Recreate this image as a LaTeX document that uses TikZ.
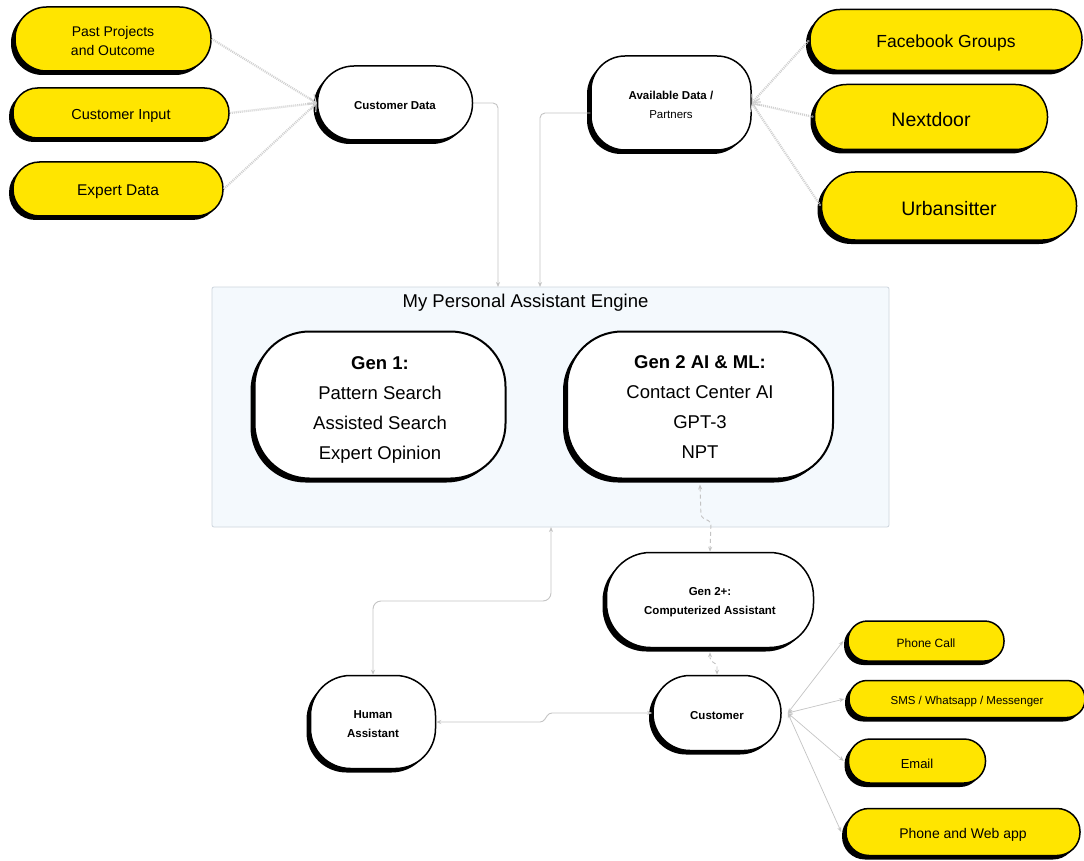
\documentclass[tikz,border=0pt]{standalone}
\usepackage{fontspec}
\setmainfont{Liberation Sans}
\usetikzlibrary{shadows,arrows.meta}
\definecolor{yel}{HTML}{FFE500}
\definecolor{lgray}{HTML}{C4C4C4}
\definecolor{dgray}{HTML}{D0D0D0}
\definecolor{engbg}{HTML}{F4F9FD}
\definecolor{engbd}{HTML}{CDD5DD}
\newcommand{\fs}[2]{\fontsize{#1}{#2}\selectfont}
\newcommand{\lift}[1]{\rule{0pt}{\dimexpr 0.75em+#1\relax}}
\tikzset{
  dn/.style={execute at begin node={\lift{#1}}},
  box/.style={draw=black, line width=1.5pt, inner sep=0pt, align=center,
    drop shadow={shadow xshift=-4pt, shadow yshift=-4pt, opacity=1, fill=black}},
  ybox/.style={box, fill=yel},
  wbox/.style={box, fill=white},
  sz/.style n args={3}{minimum width=#1, minimum height=#2, rounded corners=#3},
  dotconn/.style={draw=dgray, line width=2.2pt, dash pattern=on 1pt off 1pt},
  conn/.style={draw=lgray, line width=0.9pt},
  dconn/.style={draw=lgray, line width=0.9pt, dash pattern=on 4pt off 3pt},
  tip/.style={-{Stealth[length=5pt,width=4pt]}},
  tips/.style={{Stealth[length=5pt,width=4pt]}-{Stealth[length=5pt,width=4pt]}},
}
\begin{document}
\begin{tikzpicture}[x=1pt,y=1pt]
\useasboundingbox (0,0) rectangle (1084,-861);
\fill[white] (0,0) rectangle (1084,-861);

% engine frame
\node[draw=engbd, fill=engbg, line width=0.8pt, minimum width=677, minimum height=240, rounded corners=2pt, inner sep=0pt] (engine) at (550.5,-407) {};
\node[font=\fs{18.5}{22}] (etitle) at (525.5,-303) {My Personal Assistant Engine};

% left pills
\node[ybox, sz={196}{64}{31.5}, font=\fs{14}{19}] (pp) at (113,-39) {\lift{4pt}Past Projects\\and Outcome};
\node[ybox, sz={216}{50}{24.5}, font=\fs{14.5}{17}, dn=5pt] (ci) at (121,-113) {Customer Input};
\node[ybox, sz={210}{54}{26.5}, font=\fs{15.5}{18}, dn=5pt] (ed) at (118,-189) {Expert Data};

% customer data / available data
\node[wbox, sz={155}{74}{36.5}, font=\fs{11.5}{14}, dn=4pt] (cdata) at (395,-103) {\textbf{Customer Data}};
\node[wbox, sz={160}{94}{34}, font=\fs{11.5}{19}] (avail) at (671,-103) {\lift{4pt}\textbf{Available Data /}\\Partners};

% right pills
\node[ybox, sz={272}{61}{30}, font=\fs{17.5}{20}, dn=5pt] (fb) at (946,-40) {Facebook Groups};
\node[ybox, sz={233}{65}{32}, font=\fs{19.5}{22}, dn=5pt] (nd) at (931,-117) {Nextdoor};
\node[ybox, sz={255}{68}{33.5}, font=\fs{19.5}{22}, dn=5pt] (ub) at (949,-206) {Urbansitter};

% engine boxes
\node[wbox, line width=2pt, sz={251}{147}{55}, font=\fs{18.5}{30}] (gen1) at (380,-405) {\lift{9pt}\textbf{Gen 1:}\\Pattern Search\\Assisted Search\\Expert Opinion};
\node[wbox, line width=2pt, sz={266}{147}{55}, font=\fs{18.5}{30}] (gen2) at (700,-405) {\lift{3pt}\textbf{Gen 2 AI \& ML:}\\Contact Center AI\\GPT-3\\NPT};

% lower boxes
\node[wbox, sz={207}{95}{44}, font=\fs{11.5}{19}] (gtwo) at (710,-600) {\lift{4pt}\textbf{Gen 2+:}\\\textbf{Computerized Assistant}};
\node[wbox, sz={125}{93}{40}, font=\fs{11.5}{19}] (human) at (373,-722) {\lift{4pt}\textbf{Human}\\\textbf{Assistant}};
\node[wbox, sz={128}{75}{37}, font=\fs{11.5}{14}, dn=4pt] (cust) at (717,-713) {\textbf{Customer}};

% bottom right pills
\node[ybox, sz={156}{40}{19.5}, font=\fs{12}{14}, dn=4pt] (pc) at (926,-641) {Phone Call};
\node[ybox, sz={236}{37}{18}, font=\fs{11.5}{14}, dn=5pt] (sms) at (967,-699) {SMS / Whatsapp / Messenger};
\node[ybox, sz={137}{44}{21.5}, font=\fs{13}{15}, dn=5pt] (em) at (917,-761) {Email};
\node[ybox, sz={234}{47}{23}, font=\fs{14}{16}, dn=5pt] (pw) at (963,-832) {Phone and Web app};

% coordinates
\coordinate (tin1) at (498,-287);
\coordinate (tin2) at (540,-287);
\coordinate (ebot) at (551,-527);
\coordinate (hturn) at (551,-601);
\coordinate (j1) at (543,-722);
\coordinate (j2) at (549,-713);
\coordinate (g1) at (701,-517);
\coordinate (g2) at (711,-522);
\coordinate (g3) at (710,-660);
\coordinate (g4) at (717,-665);

% dotted inputs
\foreach \s in {pp,ci,ed}
  \draw[dotconn, -{Straight Barb[length=6pt,width=12pt,line width=1.2pt]}] (\s.east) -- (cdata.west);
\foreach \s in {fb,nd,ub}
  \draw[dotconn, {Circle[length=3pt,width=3pt,line width=0pt,fill=gray]}-{Straight Barb[length=6pt,width=12pt,line width=1.2pt]}] (\s.west) -- (avail.east);

% to engine
\draw[conn, tip, rounded corners=5pt] (cdata.east) -| (tin1);
\draw[conn, tip, rounded corners=5pt] ([yshift=-10pt]avail.west) -| (tin2);

% human <-> engine
\draw[conn, tips, rounded corners=8pt] (ebot) -- (hturn) -| (human.north);
% human <-> customer
\draw[conn, tips, rounded corners=3pt] (human.east) -- (j1) -- (j2) -- (cust.west);
% gen2 <-> gen2+
\draw[dconn, tips, rounded corners=3pt] ([yshift=-5pt]gen2.south) -- (g1) -- (g2) -- (gtwo.north);
% gen2+ <-> customer
\draw[dconn, tips, rounded corners=2pt] ([yshift=-4pt]gtwo.south) -- (g3) -- (g4) -- (cust.north);

% customer -> channels
\foreach \t in {pc,sms,em,pw}
  \draw[conn, line width=0.7pt, {Stealth[length=5pt,width=4pt]}-{Stealth[length=5pt,width=4pt]}] ([xshift=6pt]cust.east) -- ([xshift=-4pt]\t.west);
\end{tikzpicture}
\end{document}
